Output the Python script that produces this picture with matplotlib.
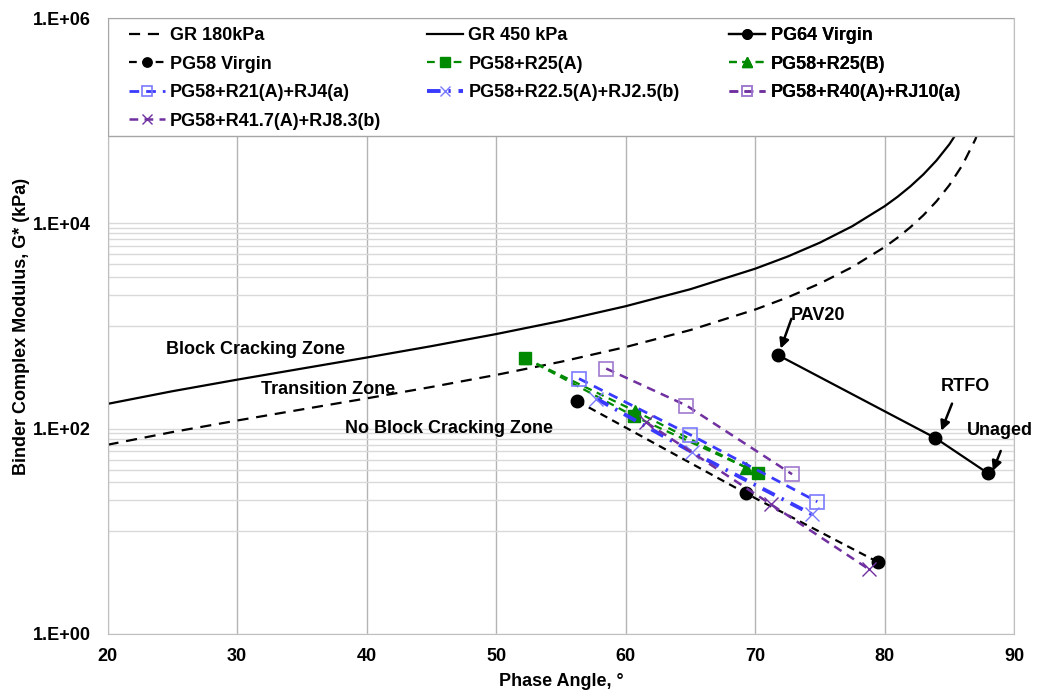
import matplotlib
matplotlib.use("Agg")
import matplotlib.pyplot as plt
from matplotlib.patches import Rectangle

plt.rcParams['font.family'] = ['Liberation Sans', 'DejaVu Sans']
plt.rcParams['font.weight'] = 'bold'

# Courbes GR
phase_gr = [20, 25, 30, 35, 40, 45, 50, 55, 60, 65, 70, 72.5, 75, 77.5, 80, 81, 82, 83, 84, 85, 86, 87, 88]
gr_180 = [69.7, 92.6, 120, 153.9, 197.2, 254.6, 333.7, 448.1, 623.5, 913.3, 1446, 1898, 2596, 3751,
          5879, 7265, 9203, 12030, 16384, 23607, 36902, 65624, 147692]
gr_450 = [174.3, 231.5, 300, 384.7, 492.9, 636.4, 834.3, 1120.3, 1558.8, 2283.2, 3615, 4746, 6489, 9378,
          14698, 18163, 23008, 30074, 40960, 59017, 92254, 164060, 369230]

# Liants (angle de phase, G* kPa)
pg64_phase = [71.8, 83.9, 88.0]
pg64_g = [518, 81.3, 36.6]
pg58_phase = [56.25, 69.3, 79.5]
pg58_g = [186, 23.4, 5.0]
r25a_phase = [52.2, 60.65, 70.2]
r25a_g = [491, 132, 37.2]
r25b_phase = [52.2, 60.7, 69.3]
r25b_g = [490, 149, 41.8]
r21_phase = [56.4, 65.0, 74.8]
r21_g = [307, 87.1, 19.4]
r225_phase = [57.75, 65.15, 74.4]
r225_g = [196, 58.9, 14.6]
r40_phase = [58.5, 64.7, 72.85]
r40_g = [385, 168, 36.0]
r417_phase = [61.6, 71.2, 78.8]
r417_g = [115, 18.4, 4.26]

GREEN = "#008a00"
BLUE = "#3a3aff"
BLUE_L = "#7a7aff"
PURPLE = "#7030a0"
PURPLE_L = "#a07ad0"

fig = plt.figure(figsize=(10.37, 6.94), dpi=100)
ax = fig.add_axes([0.1037, 0.0865, 0.8743, 0.8875])

l_gr180, = ax.plot(phase_gr, gr_180, color="black", lw=1.6, dashes=(5, 3.5), label="GR 180kPa")
l_gr450, = ax.plot(phase_gr, gr_450, color="black", lw=1.6, label="GR 450 kPa")
l_pg64, = ax.plot(pg64_phase, pg64_g, color="black", lw=1.6, marker="o", ms=9, label="PG64 Virgin")
l_pg58, = ax.plot(pg58_phase, pg58_g, color="black", lw=1.6, dashes=(3.5, 2.5), marker="o", ms=9,
                  label="PG58 Virgin")
l_r25a, = ax.plot(r25a_phase, r25a_g, color=GREEN, lw=1.6, dashes=(3.5, 2.5), marker="s", ms=9,
                  label="PG58+R25(A)")
l_r25b, = ax.plot(r25b_phase, r25b_g, color=GREEN, lw=1.6, dashes=(3.5, 2.5), marker="^", ms=9,
                  label="PG58+R25(B)")
l_r21, = ax.plot(r21_phase, r21_g, color=BLUE, lw=2.0, dashes=(3.5, 2.5), marker="s", ms=10,
                 mfc="none", mec=BLUE_L, mew=1.2, label="PG58+R21(A)+RJ4(a)")
l_r225, = ax.plot(r225_phase, r225_g, color=BLUE, lw=2.8, dashes=(3.5, 2, 0.6, 2), marker="x", ms=10,
                  mec=BLUE_L, mew=1.0, label="PG58+R22.5(A)+RJ2.5(b)")
l_r40, = ax.plot(r40_phase, r40_g, color=PURPLE, lw=1.8, dashes=(3.5, 2.5), marker="s", ms=10,
                 mfc="none", mec=PURPLE_L, mew=1.2, label="PG58+R40(A)+RJ10(a)")
l_r417, = ax.plot(r417_phase, r417_g, color=PURPLE, lw=1.8, dashes=(3.5, 2.5), marker="x", ms=10,
                  mec=PURPLE, mew=1.0, label="PG58+R41.7(A)+RJ8.3(b)")

ax.set_yscale("log")
ax.set_xlim(20, 90)
ax.set_ylim(1, 1e6)
ax.set_xticks(range(20, 91, 10))
ax.set_yticks([1, 1e2, 1e4, 1e6])
ax.set_yticklabels(["1.E+00", "1.E+02", "1.E+04", "1.E+06"])
minors = [k * 10 for k in range(1, 10)] + [k * 1e3 for k in range(1, 10)] + [k * 1e5 for k in range(1, 10)]
ax.set_yticks(minors, minor=True)
ax.set_yticklabels([], minor=True)
ax.tick_params(which="both", length=0, labelsize=13)
ax.tick_params(axis="x", pad=10)
ax.tick_params(axis="y", pad=12)
ax.grid(True, axis="x", color="#b4b4b4", lw=1)
ax.grid(True, axis="y", which="both", color="#d9d9d9", lw=1)
ax.set_axisbelow(True)
for s in ax.spines.values():
    s.set_color("#bfbfbf")

ax.set_xlabel("Phase Angle, °", fontsize=13, fontweight="bold", labelpad=6)
ax.set_ylabel("Binder Complex Modulus, G* (kPa)", fontsize=13, fontweight="bold", labelpad=2)

# Zones
ax.text(31.4, 10 ** 2.77, "Block Cracking Zone", fontsize=13, ha="center", va="center")
ax.text(37.0, 10 ** 2.38, "Transition Zone", fontsize=13, ha="center", va="center")
ax.text(46.35, 10 ** 2.0, "No Block Cracking Zone", fontsize=13, ha="center", va="center")

# Vieillissement PG64
arrow = dict(arrowstyle="-|>", color="black", lw=1.8, mutation_scale=14, shrinkA=0, shrinkB=0)
ax.text(74.85, 10 ** 3.10, "PAV20", fontsize=13, ha="center", va="center")
ax.annotate("", xy=(71.97, 10 ** 2.78), xytext=(72.8, 10 ** 3.07), arrowprops=arrow)
ax.text(86.2, 10 ** 2.41, "RTFO", fontsize=13, ha="center", va="center")
ax.annotate("", xy=(84.37, 10 ** 1.98), xytext=(85.2, 10 ** 2.244), arrowprops=arrow)
ax.text(88.87, 10 ** 1.978, "Unaged", fontsize=13, ha="center", va="center", clip_on=False)
ax.annotate("", xy=(88.35, 10 ** 1.589), xytext=(88.96, 10 ** 1.783), arrowprops=arrow)

# Cadre de la légende
ax.add_patch(Rectangle((0, 0.808), 1, 0.192, transform=ax.transAxes, facecolor="white",
                       edgecolor="#a6a6a6", lw=1, zorder=5))
colonnes = [
    ([l_gr180, l_pg58, l_r21, l_r417], 0.0154),
    ([l_gr450, l_r25a, l_r225], 0.3443),
    ([l_pg64, l_r25b, l_r40], 0.6777),
]
for hs, x0 in colonnes:
    leg = ax.legend(handles=hs, loc="upper left", bbox_to_anchor=(x0, 0.997),
                    frameon=False, fontsize=13, handlelength=2.0, handletextpad=0.3,
                    labelspacing=0.64, markerscale=0.75, borderaxespad=0)
    leg.set_zorder(6)
    ax.add_artist(leg)

fig.savefig("out.png", dpi=100)
